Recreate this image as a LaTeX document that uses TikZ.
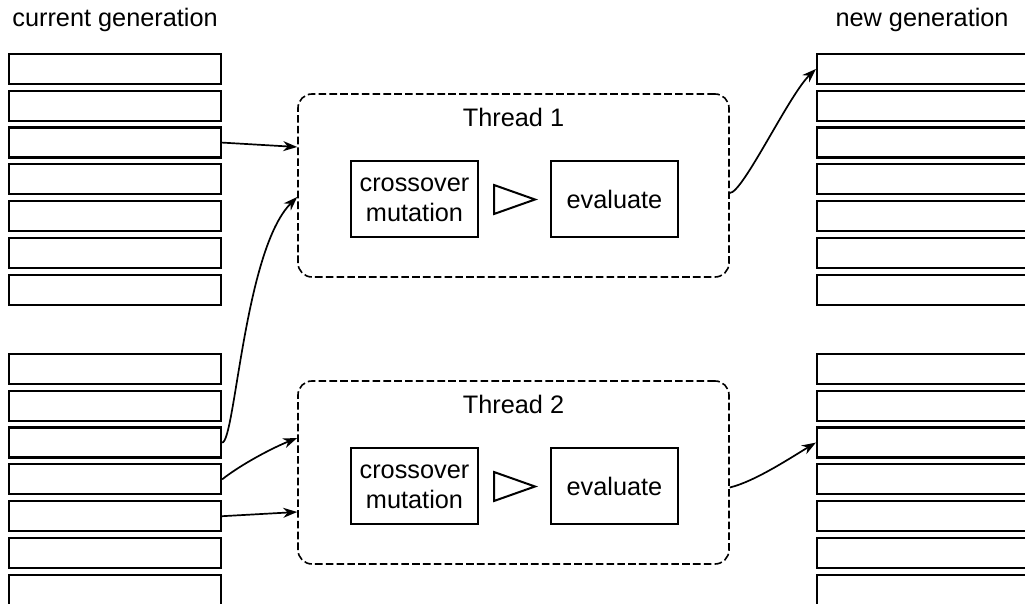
\documentclass[tikz,border=0pt]{standalone}
\usepackage{fontspec}
\setmainfont{Liberation Sans}
\usepackage{tikz}
\usetikzlibrary{positioning,calc,arrows.meta}
\tikzset{
		edgeStyle/.style = {line width = 0.85pt, -{Stealth[length=7pt,width=5pt,inset=2.2pt]}},
		cell/.style =      {draw, line width=1.1pt, minimum width=106pt, minimum height=15pt, inner sep=0pt},
		thread/.style =    {draw, line width=0.8pt, dash pattern=on 3.8pt off 1.6pt, rounded corners=7pt,
		                    minimum width=215.5pt, minimum height=91.5pt, inner sep=0pt},
		task/.style =      {draw, line width=1pt, minimum width=63.5pt, minimum height=38pt,
		                    inner sep=0pt, align=center},
		node distance=35.5pt
}

\begin{document}
\begin{tikzpicture}[x=0.5pt, y=-0.5pt, font=\fontsize{12.65pt}{15pt}\selectfont]
  \useasboundingbox (0,0) rectangle (1025,604);
  \clip (0,0) rectangle (1025,604);

  % Generations
  \node [anchor=base west, inner sep=0pt] (curTitle) at (12,27) {current generation};
  \node [anchor=base east, inner sep=0pt] (newTitle) at (1009,27) {new generation};
  \foreach \i in {1,...,7}
  {
    \node [cell] (cA\i) at (115, 32.2+36.8*\i) {};
    \node [cell] (cB\i) at (115, 332.2+36.8*\i) {};
    \node [cell] (nA\i) at (923, 32.2+36.8*\i) {};
    \node [cell] (nB\i) at (923, 332.2+36.8*\i) {};
  }

  % Threads
  \foreach \t/\y in {1/185.5, 2/472.5}
  {
    \node [thread] (t\t) at (513.5,\y) {};
    \node [anchor=base, inner sep=0pt] (h\t) at ($(t\t.north)+(0,33)$) {Thread \t};
    \node [task] (c\t) at ($(t\t.center)+(-99,14)$) {crossover\\mutation};
    \node [task, right=of c\t] (e\t) {evaluate};
    \draw [line width=1pt] ($(c\t.east)+(15,-14.5)$) -- ++(0,29) -- ++(41,-14.5) -- cycle;
  }

  % Edges into the threads
  \draw [edgeStyle] (cA3.east) -- ($(t1.west)+(0,-38.5)$);
  \draw [edgeStyle] (cB3.east) .. controls +(13,0) and +(-53,53) .. ($(t1.west)+(0,11.5)$);
  \draw [edgeStyle] (cB4.east) .. controls +(19,-15) and +(-25,10) .. ($(t2.west)+(0,-34.5)$);
  \draw [edgeStyle] (cB5.east) -- ($(t2.west)+(0,39.5)$);

  % Edges out of the threads
  \draw [edgeStyle] ($(t1.east)+(0,7.5)$) .. controls +(13,0) and +(-27,26) .. (nA1.west);
  \draw [edgeStyle] ($(t2.east)+(0,15)$) .. controls +(25,-6) and +(-25,15) .. (nB3.west);
\end{tikzpicture}
\end{document}
